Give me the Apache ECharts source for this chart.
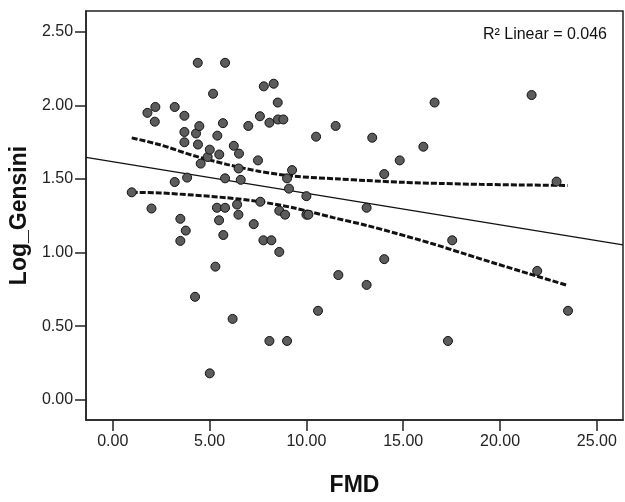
<!DOCTYPE html>
<html>
<head>
<meta charset="utf-8">
<script src="https://cdn.jsdelivr.net/npm/echarts@6/dist/echarts.min.js"></script>
<style>html,body{margin:0;padding:0;background:#fff;}#c{width:625px;height:502px;}</style>
</head>
<body>
<div id="c"></div>
<script>
const fmd = [0.98,1.79,2.0,2.17,2.2,3.2,3.2,3.49,3.49,3.7,3.7,3.7,3.77,3.84,4.25,4.3,4.39,4.4,4.47,4.54,4.9,5.01,5.01,5.18,5.3,5.38,5.4,5.49,5.5,5.69,5.71,5.8,5.8,5.8,6.19,6.25,6.42,6.49,6.5,6.52,6.61,7.0,7.28,7.5,7.6,7.62,7.78,7.8,8.09,8.09,8.19,8.31,8.52,8.53,8.6,8.6,8.81,8.9,9.0,9.0,9.1,9.26,10.0,10.0,10.1,10.5,10.6,11.51,11.65,13.11,13.11,13.4,14.02,14.02,14.82,16.04,16.62,17.31,17.53,21.63,21.92,22.92,23.51];
const logGensini = [1.41,1.95,1.30,1.89,1.99,1.99,1.48,1.23,1.08,1.93,1.82,1.75,1.15,1.51,0.70,1.81,2.29,1.735,1.86,1.605,1.65,1.70,0.18,2.08,0.905,1.305,1.795,1.22,1.667,1.88,1.12,2.29,1.505,1.305,0.55,1.726,1.327,1.258,1.572,1.673,1.495,1.861,1.194,1.627,1.927,1.346,1.084,2.13,1.883,0.40,1.084,2.148,2.02,1.905,1.285,1.005,1.905,1.258,1.505,0.40,1.435,1.561,1.384,1.258,1.258,1.788,0.605,1.861,0.848,1.305,0.781,1.781,1.534,0.956,1.627,1.72,2.02,0.40,1.084,2.071,0.876,1.483,0.605];
const fitX = [-1.38, 26.35];
const fitY = [1.647, 1.053];
const upperX = [0.98,2.44,4.16,5.88,7.6,9.32,11.73,13.11,15.0,17.0,18.96,21.0,23.49];
const upperY = [1.78,1.733,1.66,1.60,1.552,1.52,1.50,1.49,1.478,1.47,1.464,1.46,1.457];
const lowerX = [0.98,2.44,4.16,5.88,7.6,9.32,11.39,13.11,14.66,16.4,18.1,19.8,21.54,23.49];
const lowerY = [1.41,1.406,1.391,1.373,1.346,1.305,1.238,1.185,1.13,1.065,0.995,0.925,0.855,0.777];
const xTicks = [0,5,10,15,20,25];
const yTicks = [0,0.5,1,1.5,2,2.5];
const r2Label = 'R² Linear = 0.046';

const zip = (a,b) => a.map((v,i)=>[v,b[i]]);
const chart = echarts.init(document.getElementById('c'));
const font = 'Liberation Sans, Arial, sans-serif';
chart.setOption({
  backgroundColor: '#fff',
  animation: false,
  grid: {left: 86, top: 11, right: 2, bottom: 71, show: true, borderColor: '#222', borderWidth: 1.5, backgroundColor: 'transparent'},
  xAxis: {
    type: 'value', min: -1.38, max: 26.35,
    name: 'FMD', nameLocation: 'middle', nameGap: 54,
    nameTextStyle: {fontFamily: font, fontWeight: 'bold', fontSize: 23, color: '#111'},
    axisLine: {show: true, onZero: false, lineStyle: {color: '#222', width: 1.5}},
    axisTick: {show: true, length: 11, customValues: xTicks, lineStyle: {color: '#222', width: 1.5}},
    axisLabel: {customValues: xTicks, formatter: v => v.toFixed(2), fontFamily: font, fontSize: 16, color: '#222', margin: 14},
    splitLine: {show: false}
  },
  yAxis: {
    type: 'value', min: -0.137, max: 2.642,
    name: 'Log_Gensini', nameLocation: 'middle', nameGap: 52,
    nameTextStyle: {fontFamily: font, fontWeight: 'bold', fontSize: 23, color: '#111'},
    axisLine: {show: true, onZero: false, lineStyle: {color: '#222', width: 1.5}},
    axisTick: {show: true, length: 11, customValues: yTicks, lineStyle: {color: '#222', width: 1.5}},
    axisLabel: {customValues: yTicks, formatter: v => v.toFixed(2), fontFamily: font, fontSize: 16, color: '#222', margin: 13},
    splitLine: {show: false}
  },
  graphic: [{
    type: 'text', right: 18, top: 27,
    style: {text: r2Label, fontFamily: font, fontSize: 16, fill: '#111'}
  }],
  series: [
    {type: 'line', data: zip(fitX, fitY), showSymbol: false, lineStyle: {color: '#111', width: 1.2}, z: 2},
    {type: 'line', data: zip(upperX, upperY), showSymbol: false, smooth: 0.3, lineStyle: {color: '#111', width: 3, type: [6, 2]}, z: 2},
    {type: 'line', data: zip(lowerX, lowerY), showSymbol: false, smooth: 0.3, lineStyle: {color: '#111', width: 3, type: [6, 2]}, z: 2},
    {type: 'scatter', data: zip(fmd, logGensini), symbol: 'circle', symbolSize: 9,
     itemStyle: {color: '#5c5c5c', borderColor: '#111', borderWidth: 1, opacity: 1}, z: 3}
  ]
});
</script>
</body>
</html>
